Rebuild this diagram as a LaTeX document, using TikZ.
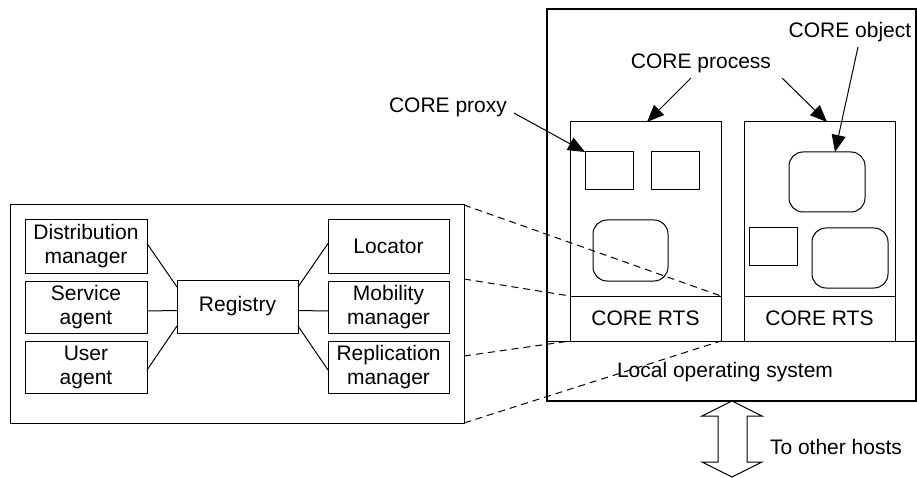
\documentclass[tikz,border=0pt]{standalone}
\usepackage{fontspec}
\setmainfont{Liberation Sans}
\usetikzlibrary{arrows.meta}
\begin{document}
\begin{tikzpicture}[x=1pt,y=-1pt,
  every node/.style={font=\fontsize{21}{24}\selectfont, inner sep=0pt, outer sep=0pt},
  box/.style={draw, line width=1pt, align=center},
  rbox/.style={draw, line width=1pt, rounded corners=14pt},
  lbl/.style={align=center},
  link/.style={line width=1pt},
  dashlink/.style={line width=1pt, dash pattern=on 7pt off 5pt},
  ptr/.style={line width=1pt, -{Triangle[length=17pt,width=14pt]}}
]
\useasboundingbox (0,0) rectangle (917,478);

% left detail box
\node[box, minimum width=454pt, minimum height=218pt] (lb) at (237,314) {};
\node[box, minimum width=122pt, minimum height=53pt] (dist) at (86,246.5) {Distribution\\manager};
\node[box, minimum width=122pt, minimum height=52pt] (serv) at (86,307) {Service\\agent};
\node[box, minimum width=122pt, minimum height=52pt] (user) at (86,367) {User\\agent};
\node[box, minimum width=121pt, minimum height=53pt] (reg) at (237.5,306.5) {Registry};
\node[box, minimum width=121pt, minimum height=53pt] (loc) at (388.5,246.5) {Locator};
\node[box, minimum width=121pt, minimum height=52pt] (mob) at (388.5,307) {Mobility\\manager};
\node[box, minimum width=121pt, minimum height=52pt] (rep) at (388.5,367) {Replication\\manager};

\draw[link] ([yshift=3pt]dist.east) -- ([yshift=-7pt]reg.north west);
\draw[link] ([yshift=-4pt]serv.east) -- ([yshift=-4pt]reg.west);
\draw[link] ([yshift=-3pt]user.east) -- ([yshift=7pt]reg.south west);
\draw[link] ([yshift=3pt]loc.west) -- ([yshift=-7pt]reg.north east);
\draw[link] ([yshift=-4pt]mob.west) -- ([yshift=-4pt]reg.east);
\draw[link] ([yshift=-3pt]rep.west) -- ([yshift=7pt]reg.south east);

% host box
\node[draw, line width=2.5pt, minimum width=369pt, minimum height=392pt] (host) at (731.5,205) {};
\node[draw, line width=1pt, minimum width=369pt, minimum height=60pt] (os) at (731.5,371) {};
\draw[line width=2.5pt] (os.south west) -- (os.south east);
\node (ostext) at (725,372) {Local operating system};

\node[box, minimum width=151pt, minimum height=174pt] (proc1) at (645.5,209) {};
\node[box, minimum width=151pt, minimum height=45pt] (rts1) at (645.5,318.5) {CORE RTS};
\node[box, minimum width=151pt, minimum height=174pt] (proc2) at (819.5,209) {};
\node[box, minimum width=151pt, minimum height=45pt] (rts2) at (819.5,318.5) {CORE RTS};

\node[box, minimum width=48pt, minimum height=38pt] (px1) at (609,171) {};
\node[box, minimum width=48pt, minimum height=38pt] (px2) at (675,171) {};
\node[rbox, minimum width=75pt, minimum height=61pt] (ob1) at (630.5,250.5) {};
\node[rbox, minimum width=76pt, minimum height=60pt] (ob2) at (827,182) {};
\node[box, minimum width=48pt, minimum height=37pt] (px3) at (773,246.5) {};
\node[rbox, minimum width=76pt, minimum height=60pt] (ob3) at (850,258) {};

% labels and pointers
\node[lbl] (proxy) at (448,107) {CORE proxy};
\node[lbl] (process) at (701,63) {CORE process};
\node[lbl] (object) at (850,32) {CORE object};

\draw[ptr] ([xshift=7pt,yshift=-6pt]proxy.east) -- (px1.north west);
\draw[ptr] ([xshift=-10pt,yshift=-15pt]process.center) -- ([xshift=1.5pt]proc1.north);
\draw[ptr] ([xshift=81pt,yshift=-15pt]process.center) -- ([xshift=7.5pt]proc2.north);
\draw[ptr] ([xshift=8pt,yshift=-15pt]object.center) -- ([xshift=8pt]ob2.north);

% zoom lines
\draw[dashlink] (lb.north east) -- (rts1.north east);
\draw[dashlink] ([yshift=-74pt]lb.north east) -- (rts1.north west);
\draw[dashlink] ([yshift=-151pt]lb.north east) -- (rts1.south west);
\draw[dashlink] (lb.south east) -- (rts1.south east);

% double arrow to other hosts
\draw[line width=1pt, fill=white] (732,401) -- (762,416) -- (747,416) -- (747,462) -- (762,462)
  -- (732,477) -- (702,462) -- (718,462) -- (718,416) -- (702,416) -- cycle;
\node[anchor=west] (hosts) at (770,447) {To other hosts};
\end{tikzpicture}
\end{document}
